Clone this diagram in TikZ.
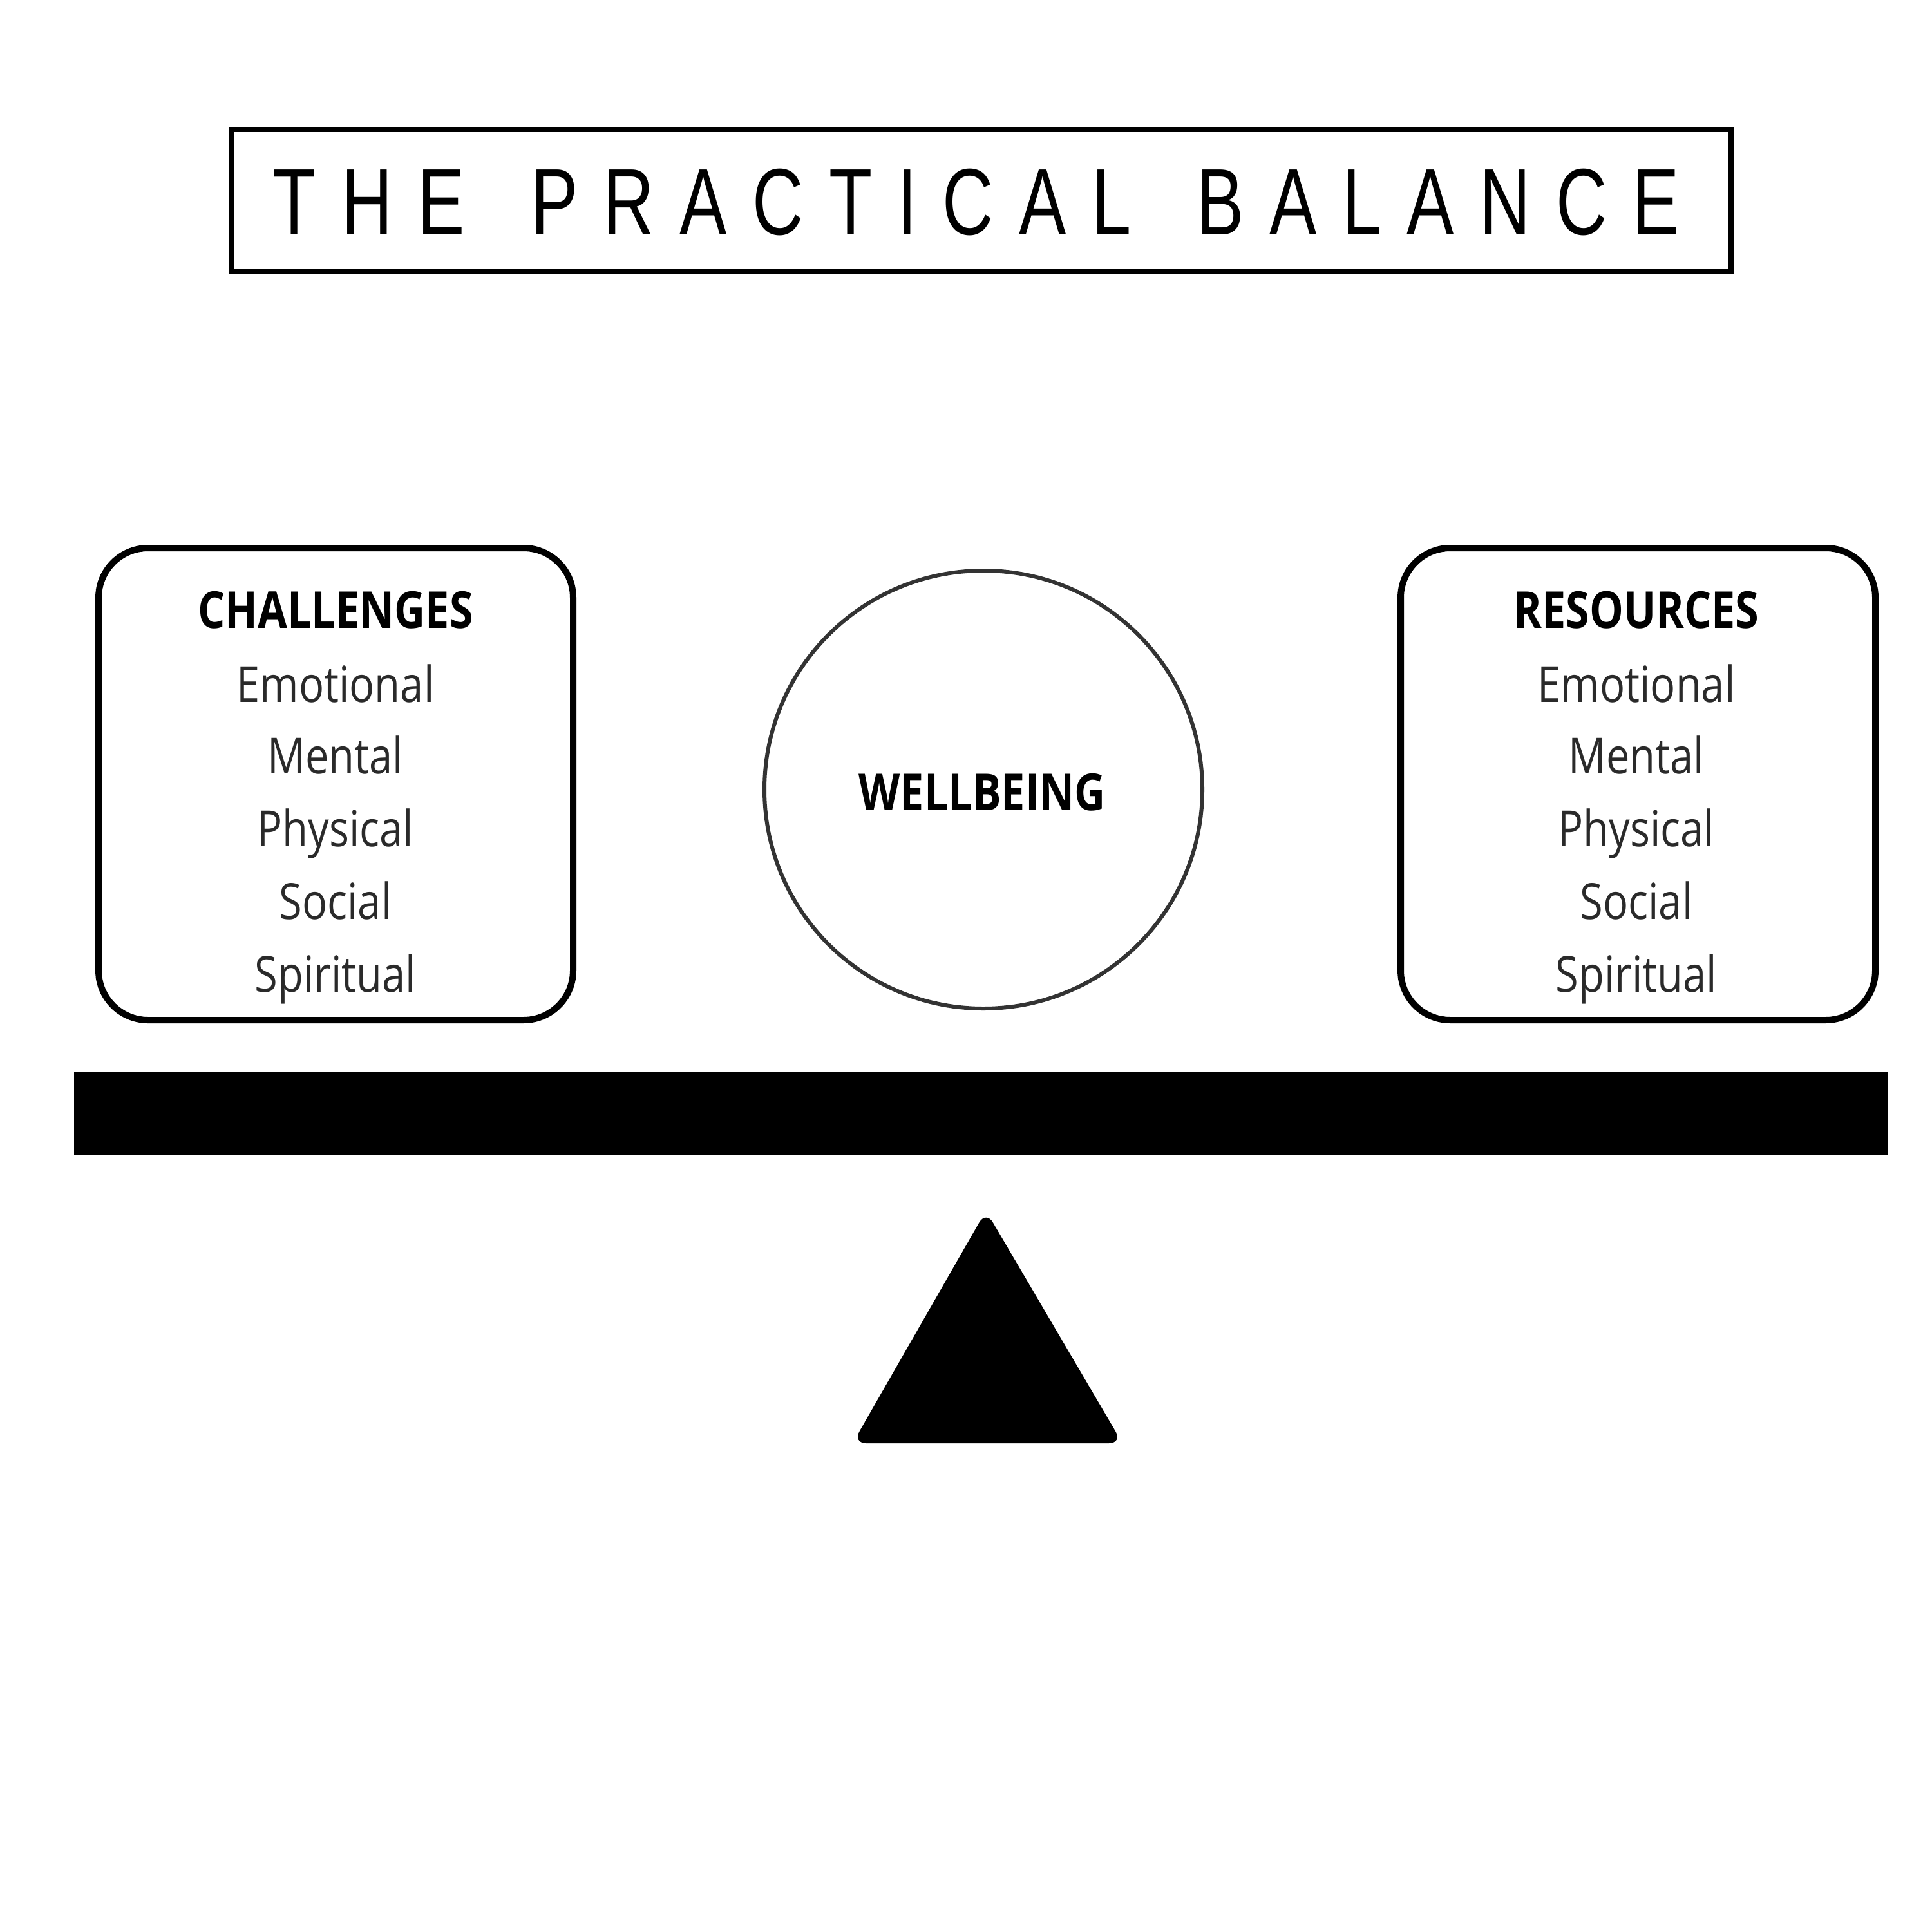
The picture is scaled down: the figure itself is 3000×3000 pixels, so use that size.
\documentclass[tikz,border=0pt]{standalone}
\usepackage{fontspec}
\setmainfont{Open Sans}
\newfontfamily\titlefont[FakeStretch=0.75]{Liberation Sans}
\newfontfamily\bodyfont[FakeStretch=0.84]{Open Sans}
\newcommand\Lgap{\hspace{11.2pt}}
\newcommand\Wgap{\hspace{29pt}}
\definecolor{itemgray}{HTML}{2A2A2A}
\tikzset{
  frame/.style={draw=black, line width=10*0.2845pt, rounded corners=77*0.2845pt},
  headlbl/.style={font=\bodyfont\bfseries\fontsize{22.5}{25}\selectfont, text=black, inner sep=0pt},
  itemlbl/.style={font=\bodyfont\fontsize{22}{26}\selectfont, text=itemgray, inner sep=0pt, text height=0.72em, text depth=0.24em},
}
\begin{document}
\begin{tikzpicture}[x=0.01cm, y=-0.01cm]
\useasboundingbox (0,0) rectangle (3000,3000);
% title
\draw[line width=8*0.2845pt] (360,201) rectangle (2688,421);
\node[font=\titlefont\fontsize{41.7}{45}\selectfont, inner sep=0pt] (title) at (1516,314)
 {T\Lgap H\Lgap E\Wgap P\Lgap R\Lgap A\Lgap C\Lgap T\Lgap I\Lgap C\Lgap A\Lgap L\Wgap B\Lgap A\Lgap L\Lgap A\Lgap N\Lgap C\Lgap E};
% left box
\draw[frame] (153,851) rectangle (890,1584);
\node[headlbl] (chal) at (521,947) {CHALLENGES};
\node[itemlbl] (c1) at (521,1082) {Emotional};
\node[itemlbl] (c2) at (521,1193) {Mental};
\node[itemlbl] (c3) at (521,1306) {Physical};
\node[itemlbl] (c4) at (521,1419) {Social};
\node[itemlbl] (c5) at (521,1532) {Spiritual};
% right box
\draw[frame] (2175,851) rectangle (2912,1584);
\node[headlbl] (res) at (2541,947) {RESOURCES};
\node[itemlbl] (r1) at (2541,1082) {Emotional};
\node[itemlbl] (r2) at (2541,1193) {Mental};
\node[itemlbl] (r3) at (2541,1306) {Physical};
\node[itemlbl] (r4) at (2541,1419) {Social};
\node[itemlbl] (r5) at (2541,1532) {Spiritual};
% circle
\draw[line width=6*0.2845pt, draw=black!80] (1527,1226) circle[radius=340*0.01cm];
\node[headlbl] (well) at (1525,1230) {WELLBEING};
% beam
\fill[black] (115,1665) rectangle (2931,1793);
% fulcrum
\fill[black, rounded corners=6pt] (1531,1880) -- (1743,2241) -- (1324,2241) -- cycle;
\end{tikzpicture}
\end{document}
